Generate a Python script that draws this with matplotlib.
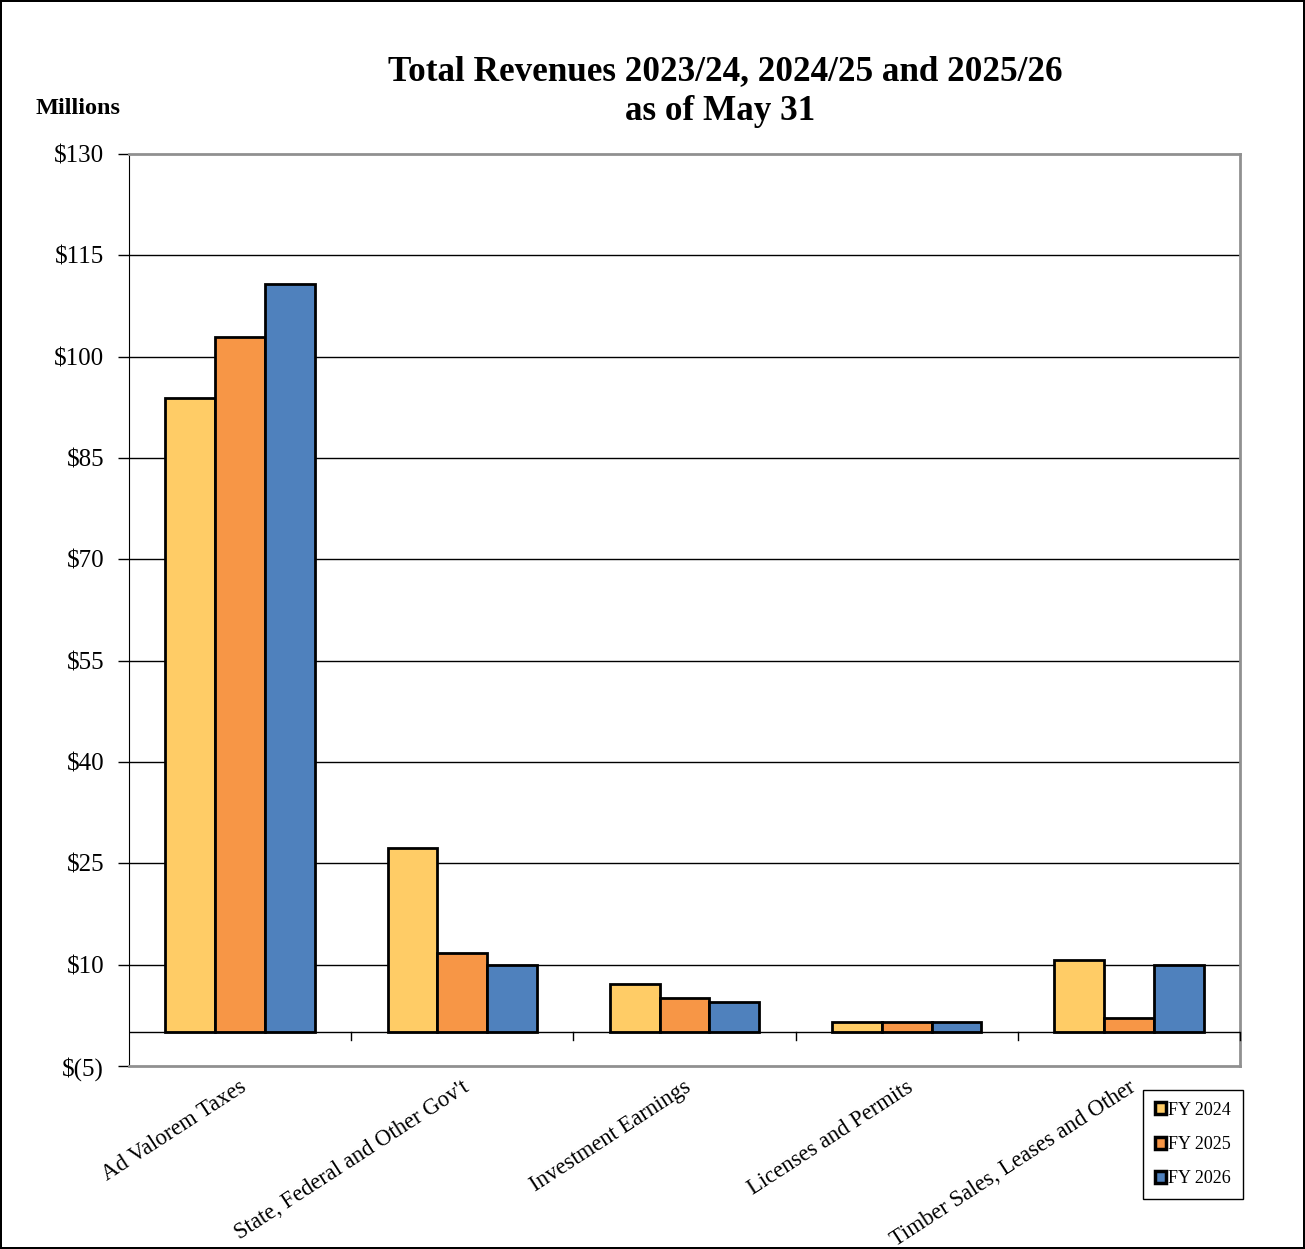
import matplotlib.pyplot as plt
import numpy as np

categories = ['Ad Valorem Taxes', "State, Federal and Other Gov't",
              'Investment Earnings', 'Licenses and Permits',
              'Timber Sales, Leases and Other']
series_names = ['FY 2024', 'FY 2025', 'FY 2026']
fy2024 = [93.9, 27.2, 7.2, 1.5, 10.7]
fy2025 = [102.9, 11.7, 5.1, 1.5, 2.1]
fy2026 = [110.7, 9.9, 4.5, 1.5, 9.9]
y_ticks = [-5, 10, 25, 40, 55, 70, 85, 100, 115, 130]
y_tick_labels = ['$(5)', '$10', '$25', '$40', '$55', '$70', '$85',
                 '$100', '$115', '$130']

colors = ['#FFCC66', '#F79646', '#4F81BD']
plt.rcParams['font.family'] = ['Liberation Serif', 'DejaVu Serif']

W, H = 1305, 1249
fig = plt.figure(figsize=(W / 100, H / 100), dpi=100)
fig.patch.set_edgecolor('black')
fig.patch.set_linewidth(1.5)
ax = fig.add_axes([129 / W, 1 - 1066 / H, (1240 - 129) / W, (1066 - 154) / H])

x = np.arange(len(categories))
width = 0.224
for i, (vals, name) in enumerate(zip([fy2024, fy2025, fy2026], series_names)):
    ax.bar(x + (i - 1) * width, vals, width, color=colors[i],
           edgecolor='black', linewidth=2, label=name, zorder=3)

ax.set_xlim(-0.5, len(categories) - 0.5)
ax.set_ylim(-5, 130)
ax.set_yticks(y_ticks)
ax.set_yticklabels(y_tick_labels, fontsize=18)
ax.tick_params(axis='y', length=8, width=1, pad=10)

# gridlines
for v in y_ticks[1:-1]:
    ax.axhline(v, color='black', linewidth=1, zorder=1)
ax.axhline(0, color='black', linewidth=1, zorder=4)

# category separators on the zero line
for b in np.arange(0.5, len(categories), 1):
    ax.plot([b, b], [0, -1.1], color='black', linewidth=1, zorder=4,
            clip_on=False)

ax.set_xticks([])
for xi, label in zip(x, categories):
    ax.text(xi - 0.005, -6.6, label, rotation=33, ha='right', va='top',
            rotation_mode='anchor', fontsize=16.3)

ax.spines['left'].set_color('black')
for s in ['top', 'right', 'bottom']:
    ax.spines[s].set_color('#909090')
    ax.spines[s].set_linewidth(2)

fig.text(725 / W, 1 - 72 / H, 'Total Revenues 2023/24, 2024/25 and 2025/26',
         ha='center', va='center', fontsize=25.3, fontweight='bold')
fig.text(720 / W, 1 - 112 / H, 'as of May 31',
         ha='center', va='center', fontsize=25.3, fontweight='bold')
fig.text(36 / W, 1 - 108 / H, 'Millions', ha='left', va='center',
         fontsize=17.5, fontweight='bold')

leg = ax.legend(loc='upper left', bbox_to_anchor=(1143 / W, 1 - 1090 / H),
                bbox_transform=fig.transFigure, fontsize=13,
                handlelength=0.65, handleheight=0.65, handletextpad=0.1,
                labelspacing=0.95, borderpad=0.65, borderaxespad=0,
                fancybox=False, framealpha=1, edgecolor='black')
leg.get_frame().set_linewidth(1)
for h in leg.legend_handles:
    h.set_linewidth(2.5)

fig.savefig('out.png', dpi=100, edgecolor=fig.get_edgecolor())
